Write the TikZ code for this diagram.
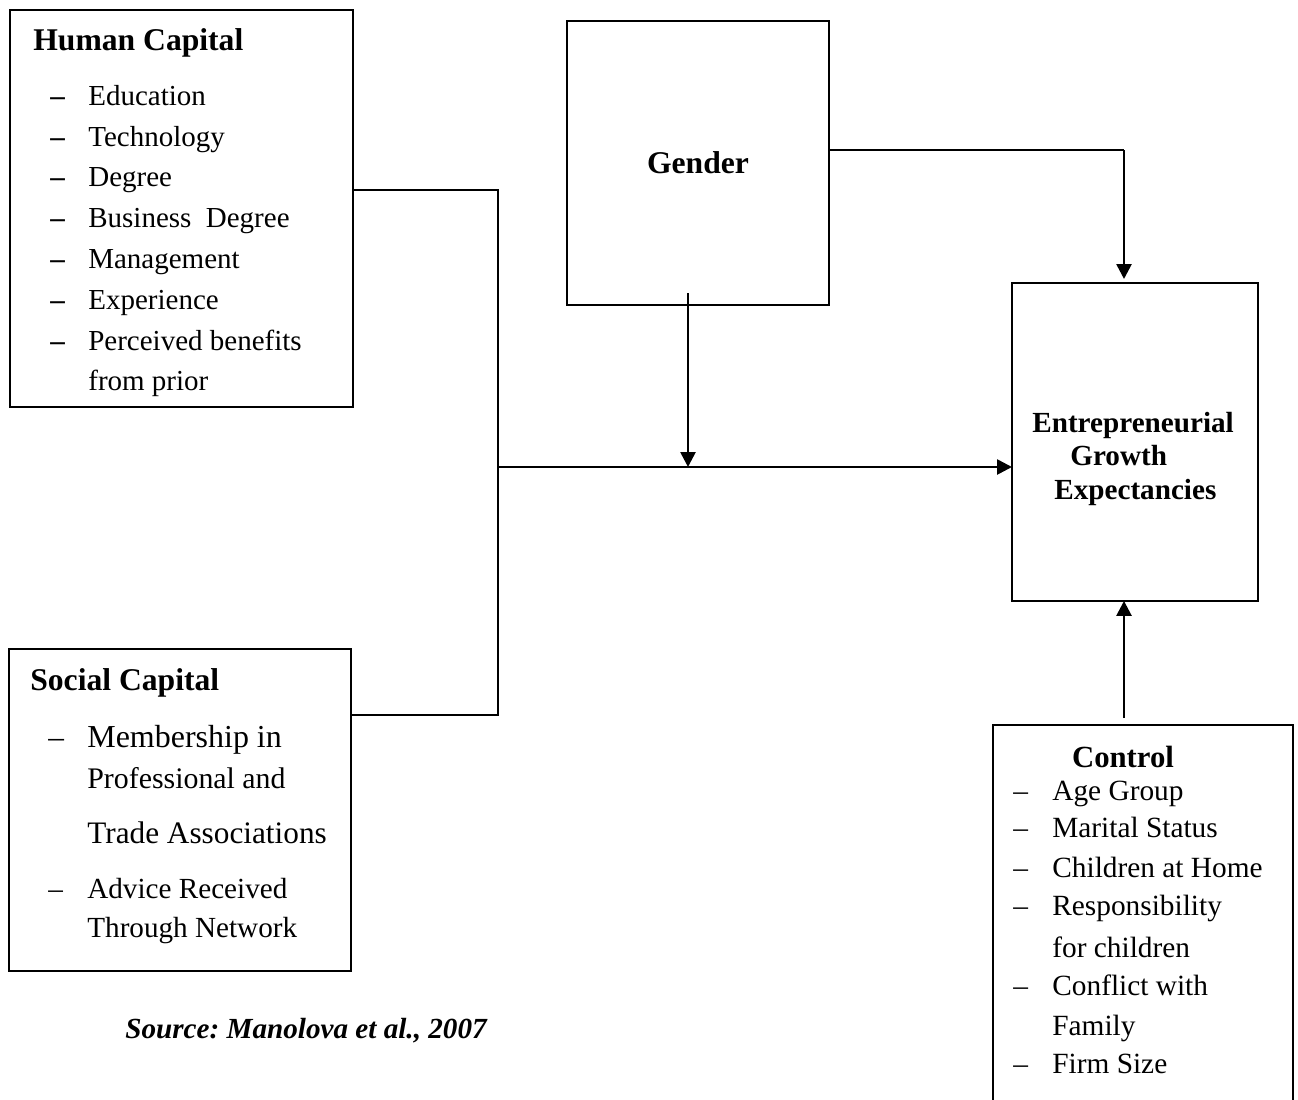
\documentclass[tikz,border=0pt]{standalone}
\usepackage{fontspec}
\setmainfont{Liberation Serif}
\frenchspacing
\usetikzlibrary{arrows.meta, positioning, calc}
\tikzset{
    box/.style={rectangle, draw=black, line width=1.1pt, anchor=north west, outer sep=0pt, inner sep=0pt},
    heading/.style={inner sep=0pt, anchor=base west, font=\fontsize{18}{22}\selectfont\bfseries},
    hcitem/.style={inner sep=0pt, anchor=base west, font=\fontsize{16.5}{20}\selectfont},
    scitem/.style={inner sep=0pt, anchor=base west, font=\fontsize{#1}{21}\selectfont},
    scitem/.default=17.8,
    ctitem/.style={inner sep=0pt, anchor=base west, font=\fontsize{16.7}{20}\selectfont},
    gritem/.style={inner sep=0pt, anchor=base west, font=\fontsize{16.6}{20}\selectfont\bfseries},
    link/.style={line width=1.2pt, draw=black},
    arrow/.style={-{Triangle[length=0.3cm, width=0.3cm]}, line width=1.5pt, draw=black},
}
\begin{document}
\begin{tikzpicture}[x=0.02cm, y=-0.02cm]
    \clip (0,0) rectangle (1298,1099);

    % Boxes
    \node[box, minimum width=6.86cm, minimum height=7.94cm] (humancap) at (10,10) {};
    \node[box, minimum width=5.24cm, minimum height=5.68cm, font=\fontsize{18}{22}\selectfont\bfseries] (gender) at (567,21) {Gender};
    \node[box, minimum width=4.92cm, minimum height=6.36cm] (growth) at (1012,283) {};
    \node[box, minimum width=6.84cm, minimum height=6.44cm] (socialcap) at (9,649) {};
    \node[box, minimum width=6.0cm, minimum height=8.4cm] (control) at (993,725) {};

    % Human capital
    \node[heading] (hctitle) at (33,50) {Human Capital};
    \foreach \y in {105,146,186,227,268,309,350}
        \node[hcitem, font=\fontsize{16.5}{20}\selectfont\bfseries] (hcdash-\y) at (50,\y) {–};
    \foreach \y/\txt in {105/Education, 146/Technology, 186/Degree, 227/{Business\ \ Degree},
                         268/Management, 309/Experience, 350/Perceived benefits, 390/from prior}
        \node[hcitem] (hcitem-\y) at (88,\y) {\txt};

    % Growth expectancies
    \foreach \y/\dx/\txt in {432/0/Entrepreneurial, 465/38/Growth, 499/22/Expectancies}
        \node[gritem] (grline-\y) at (1032+\dx,\y) {\txt};

    % Social capital
    \node[heading] (sctitle) at (30,690) {Social Capital};
    \node[scitem] (scdash-747) at (48,747) {–};
    \node[scitem=16.6] (scdash-898) at (48,898) {–};
    \foreach \y/\fs/\txt in {747/18.2/Membership in, 788/17/Professional and, 843/17.8/Trade Associations,
                             898/16.6/Advice Received, 937/16.6/Through Network}
        \node[scitem=\fs] (scitem-\y) at (87,\y) {\txt};

    % Control
    \node[heading, anchor=base, font=\fontsize{17.5}{22}\selectfont\bfseries] (cttitle) at (1123,767) {Control};
    \foreach \y in {800,837,877,915,995,1073}
        \node[ctitem] (ctdash-\y) at (1013,\y) {–};
    \foreach \y/\txt in {800/Age Group, 837/Marital Status, 877/Children at Home, 915/Responsibility,
                         957/for children, 995/Conflict with, 1035/Family, 1073/Firm Size}
        \node[ctitem] (ctitem-\y) at (1052,\y) {\txt};

    % Source
    \node[inner sep=0pt, anchor=base west, font=\fontsize{16.6}{20}\selectfont\bfseries\itshape] (source) at (125,1038) {Source: Manolova et al., 2007};

    % Junction points
    \coordinate (jtop) at (498,190);
    \coordinate (jmid) at (498,467);
    \coordinate (jbot) at (498,715);
    \coordinate (gstart) at (688,293);
    \coordinate (gturn) at (1124,150);
    \coordinate (cstart) at (1124,718);

    % Edges
    \draw[link] (humancap.east |- jtop) -- (jtop) -- (jbot) -- (socialcap.east |- jbot);
    \draw[arrow] (jmid) -- (growth.west |- jmid);
    \draw[arrow] (gstart) -- (gstart |- jmid);
    \draw[link] (gender.east |- gturn) -- (gturn);
    \draw[arrow] (gturn) -- ([yshift=0.08cm]growth.north -| gturn);
    \draw[arrow] (cstart) -- (growth.south -| cstart);
\end{tikzpicture}
\end{document}
